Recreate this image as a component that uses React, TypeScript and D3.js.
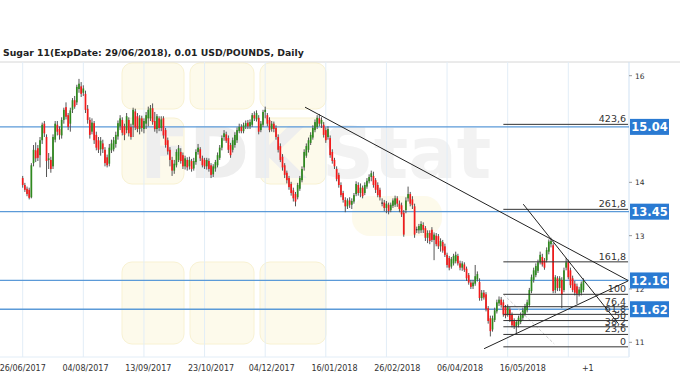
import React from "react";
import * as d3 from "d3";

const W = 680;
const H = 380;

// [open, high, low, close]
const barsJulSep2017: [number, number, number, number][] = [
  [14.08, 14.12, 13.9, 13.95], [13.95, 13.99, 13.82, 13.86], [13.88, 13.92, 13.74, 13.78], [13.86, 13.9, 13.68, 13.71],
  [13.72, 14.36, 13.7, 14.32], [14.36, 14.7, 14.3, 14.61], [14.6, 14.75, 14.38, 14.45], [14.64, 14.7, 14.4, 14.46],
  [14.51, 14.85, 14.28, 14.79], [14.79, 15.12, 14.72, 15.08], [15.1, 15.15, 14.85, 14.92], [14.85, 14.9, 14.1, 14.4],
  [14.42, 14.55, 14.25, 14.45], [14.42, 14.48, 14.18, 14.25], [14.3, 14.9, 14.25, 14.85], [14.8, 15.15, 14.75, 15.1],
  [15.08, 15.15, 14.88, 14.95], [15.0, 15.05, 14.8, 14.89], [14.88, 15.22, 14.82, 15.17], [15.17, 15.4, 15.1, 15.36],
  [15.41, 15.5, 15.18, 15.23], [15.26, 15.3, 14.98, 15.04], [15.1, 15.4, 14.95, 15.35], [15.36, 15.58, 15.3, 15.54],
  [15.54, 15.62, 15.38, 15.42], [15.5, 15.83, 15.45, 15.79], [15.75, 15.94, 15.68, 15.85], [15.8, 15.88, 15.6, 15.66],
  [15.68, 15.82, 15.62, 15.76], [15.66, 15.72, 15.3, 15.36], [15.38, 15.45, 15.1, 15.17], [15.17, 15.22, 14.82, 14.89],
  [14.95, 15.2, 14.9, 15.12], [15.11, 15.15, 14.72, 14.79], [14.89, 14.95, 14.6, 14.65], [14.79, 14.85, 14.55, 14.61],
  [14.62, 14.85, 14.5, 14.78], [14.73, 14.8, 14.55, 14.62], [14.61, 14.66, 14.3, 14.36], [14.47, 14.52, 14.28, 14.32],
  [14.35, 14.72, 14.3, 14.65], [14.6, 14.8, 14.55, 14.73], [14.62, 14.85, 14.58, 14.79], [14.72, 14.95, 14.65, 14.89],
  [14.86, 15.16, 14.8, 15.11], [15.05, 15.26, 14.98, 15.2], [15.17, 15.22, 14.88, 14.93], [15.05, 15.1, 14.79, 14.89],
  [14.98, 15.3, 14.92, 15.24], [15.17, 15.22, 14.86, 14.92], [15.04, 15.1, 14.8, 14.85], [15.08, 15.4, 14.85, 15.36],
];
const barsSepNov2017: [number, number, number, number][] = [
  [15.33, 15.38, 14.98, 15.03], [15.24, 15.3, 14.94, 15.0], [15.0, 15.26, 14.9, 15.2], [15.2, 15.25, 14.95, 15.02],
  [15.0, 15.2, 14.92, 15.15], [15.1, 15.32, 15.0, 15.26], [15.2, 15.42, 15.05, 15.36], [15.2, 15.45, 15.15, 15.39],
  [15.39, 15.48, 15.08, 15.13], [15.15, 15.32, 14.95, 15.0], [15.0, 15.28, 14.92, 15.24], [15.2, 15.24, 14.96, 15.02],
  [15.02, 15.24, 14.96, 15.18], [15.2, 15.24, 14.82, 14.88], [14.98, 15.02, 14.65, 14.7], [14.79, 14.84, 14.52, 14.58],
  [14.61, 14.66, 14.3, 14.42], [14.42, 14.48, 14.12, 14.22], [14.22, 14.42, 14.16, 14.35], [14.32, 14.62, 14.28, 14.57],
  [14.42, 14.7, 14.38, 14.64], [14.57, 14.64, 14.35, 14.4], [14.51, 14.56, 14.25, 14.3], [14.3, 14.5, 14.24, 14.45],
  [14.42, 14.47, 14.22, 14.28], [14.3, 14.48, 14.24, 14.42], [14.4, 14.44, 14.2, 14.25], [14.26, 14.46, 14.22, 14.4],
  [14.38, 14.62, 14.33, 14.57], [14.57, 14.72, 14.52, 14.65], [14.62, 14.66, 14.4, 14.45], [14.45, 14.5, 14.28, 14.32],
  [14.42, 14.46, 14.25, 14.3], [14.3, 14.46, 14.24, 14.42], [14.4, 14.45, 14.2, 14.25], [14.32, 14.36, 14.08, 14.14],
  [14.15, 14.34, 14.1, 14.3], [14.26, 14.42, 14.2, 14.38], [14.32, 14.56, 14.28, 14.51], [14.46, 14.7, 14.42, 14.65],
  [14.65, 14.88, 14.6, 14.83], [14.85, 14.98, 14.78, 14.92], [14.9, 14.95, 14.74, 14.78], [14.83, 14.88, 14.55, 14.61],
  [14.7, 14.74, 14.46, 14.51], [14.61, 14.84, 14.56, 14.79], [14.7, 14.94, 14.65, 14.89], [14.79, 15.03, 14.74, 14.98],
  [14.96, 15.1, 14.92, 15.04], [15.04, 15.09, 14.92, 14.96], [14.96, 15.12, 14.92, 15.07], [15.05, 15.16, 15.0, 15.11],
];
const barsDec2017Jan2018: [number, number, number, number][] = [
  [15.12, 15.17, 15.0, 15.05], [15.05, 15.18, 15.0, 15.13], [15.08, 15.3, 15.04, 15.26], [15.26, 15.33, 15.15, 15.2],
  [15.18, 15.35, 15.14, 15.3], [15.21, 15.26, 14.9, 14.95], [14.98, 15.15, 14.94, 15.1], [15.08, 15.36, 15.04, 15.32],
  [15.32, 15.42, 15.2, 15.36], [15.26, 15.3, 15.05, 15.1], [15.17, 15.22, 14.94, 14.98], [15.0, 15.15, 14.95, 15.1],
  [15.1, 15.14, 14.94, 15.0], [15.02, 15.07, 14.8, 14.85], [14.85, 14.9, 14.56, 14.61], [14.68, 14.73, 14.38, 14.42],
  [14.48, 14.53, 14.22, 14.28], [14.32, 14.36, 14.08, 14.14], [14.18, 14.22, 13.98, 14.04], [14.08, 14.12, 13.86, 13.91],
  [13.97, 14.01, 13.75, 13.8], [13.85, 13.9, 13.64, 13.7], [13.78, 13.82, 13.55, 13.64], [13.72, 13.99, 13.68, 13.95],
  [13.88, 14.12, 13.84, 14.08], [14.04, 14.3, 14.0, 14.25], [14.28, 14.62, 14.22, 14.57], [14.5, 14.73, 14.46, 14.68],
  [14.61, 14.84, 14.56, 14.79], [14.74, 14.94, 14.7, 14.89], [14.84, 15.07, 14.8, 15.02], [14.98, 15.18, 14.94, 15.13],
  [15.04, 15.26, 15.0, 15.21], [15.2, 15.28, 15.05, 15.1], [15.1, 15.22, 15.02, 15.17], [15.08, 15.13, 14.84, 14.89],
  [14.98, 15.03, 14.74, 14.79], [14.85, 15.05, 14.8, 15.0], [14.83, 14.88, 14.46, 14.51], [14.57, 14.62, 14.35, 14.4],
  [14.42, 14.46, 14.25, 14.3], [14.25, 14.3, 14.02, 14.06], [14.14, 14.18, 13.9, 13.95], [13.95, 14.0, 13.72, 13.76],
  [13.8, 13.84, 13.62, 13.67], [13.67, 13.72, 13.44, 13.55], [13.55, 13.7, 13.5, 13.66], [13.66, 13.72, 13.52, 13.58],
  [13.58, 13.7, 13.5, 13.65], [13.64, 13.8, 13.6, 13.76],
];
const barsFebApr2018: [number, number, number, number][] = [
  [13.78, 14.02, 13.74, 13.97], [13.95, 14.0, 13.75, 13.8], [13.8, 13.98, 13.72, 13.9], [13.9, 13.94, 13.7, 13.74],
  [13.8, 14.0, 13.76, 13.95], [13.92, 14.08, 13.88, 14.03], [14.02, 14.15, 13.98, 14.1], [14.1, 14.22, 14.02, 14.17],
  [14.12, 14.2, 13.9, 13.95], [14.04, 14.08, 13.8, 13.86], [13.95, 14.0, 13.72, 13.76], [13.86, 13.9, 13.66, 13.72],
  [13.62, 13.7, 13.55, 13.62], [13.62, 13.67, 13.46, 13.52], [13.52, 13.65, 13.42, 13.6], [13.58, 13.62, 13.4, 13.46],
  [13.48, 13.62, 13.44, 13.58], [13.56, 13.7, 13.52, 13.66], [13.58, 13.75, 13.54, 13.7], [13.7, 13.74, 13.54, 13.6],
  [13.6, 13.66, 13.44, 13.5], [13.57, 13.62, 13.35, 13.4], [13.43, 13.48, 12.98, 13.02], [13.48, 13.72, 13.42, 13.66],
  [13.7, 13.92, 13.64, 13.78], [13.78, 13.82, 13.55, 13.6], [13.68, 13.74, 13.5, 13.57], [13.55, 13.6, 12.96, 13.02],
  [13.12, 13.17, 13.05, 13.12], [13.1, 13.22, 13.04, 13.18], [13.1, 13.27, 13.05, 13.22], [13.2, 13.25, 13.05, 13.11],
  [13.14, 13.18, 12.9, 12.96], [12.96, 13.1, 12.86, 13.05], [13.05, 13.1, 12.84, 12.9], [13.11, 13.16, 12.88, 12.92],
  [12.92, 13.06, 12.54, 13.02], [13.0, 13.05, 12.8, 12.84], [12.99, 13.03, 12.75, 12.8], [12.8, 12.95, 12.7, 12.9],
  [12.88, 12.92, 12.68, 12.72], [12.8, 12.85, 12.6, 12.64], [12.64, 12.68, 12.4, 12.45], [12.58, 12.62, 12.35, 12.4],
  [12.42, 12.6, 12.38, 12.56], [12.48, 12.66, 12.44, 12.62], [12.52, 12.7, 12.48, 12.64], [12.62, 12.66, 12.44, 12.48],
];
const barsMayJun2018: [number, number, number, number][] = [
  [12.48, 12.53, 12.35, 12.4], [12.4, 12.52, 12.34, 12.48], [12.46, 12.5, 12.32, 12.36], [12.38, 12.42, 12.15, 12.2],
  [12.26, 12.3, 12.08, 12.12], [12.12, 12.17, 12.0, 12.04], [12.05, 12.17, 12.0, 12.12], [12.1, 12.45, 12.06, 12.24],
  [12.18, 12.33, 12.14, 12.28], [12.13, 12.2, 11.78, 11.83], [11.83, 11.98, 11.78, 11.93], [11.93, 11.98, 11.8, 11.84],
  [11.9, 11.94, 11.58, 11.62], [11.64, 11.68, 11.35, 11.4], [11.45, 11.5, 11.11, 11.21], [11.24, 11.5, 11.2, 11.45],
  [11.42, 11.65, 11.38, 11.6], [11.58, 11.8, 11.54, 11.75], [11.73, 11.86, 11.68, 11.8], [11.8, 11.85, 11.65, 11.7],
  [11.75, 11.8, 11.48, 11.52], [11.66, 11.7, 11.45, 11.5], [11.52, 11.71, 11.48, 11.66], [11.62, 11.66, 11.38, 11.42],
  [11.52, 11.56, 11.28, 11.32], [11.4, 11.45, 11.25, 11.3], [11.3, 11.42, 11.17, 11.38], [11.33, 11.5, 11.28, 11.46],
  [11.38, 11.56, 11.34, 11.51], [11.46, 11.65, 11.42, 11.6], [11.53, 11.72, 11.49, 11.68], [11.6, 11.8, 11.56, 11.75],
  [11.7, 12.02, 11.66, 11.98], [11.96, 12.27, 11.92, 12.22], [12.17, 12.4, 12.12, 12.35], [12.26, 12.48, 12.22, 12.43],
  [12.34, 12.55, 12.3, 12.5], [12.5, 12.7, 12.46, 12.64], [12.6, 12.66, 12.42, 12.46], [12.54, 12.58, 12.36, 12.4],
  [12.54, 12.78, 12.5, 12.73], [12.7, 12.93, 12.65, 12.89], [12.84, 12.96, 12.78, 12.9], [12.82, 12.86, 11.92, 11.96],
  [11.98, 12.26, 11.92, 12.22], [12.2, 12.24, 11.96, 12.02], [12.02, 12.24, 11.96, 12.2], [12.17, 12.22, 11.64, 11.89],
  [11.98, 12.4, 11.94, 12.35], [12.4, 12.58, 12.35, 12.5], [12.5, 12.55, 12.18, 12.22], [12.35, 12.4, 12.02, 12.07],
  [12.2, 12.25, 11.94, 11.98], [12.1, 12.15, 11.88, 11.93], [12.05, 12.1, 11.72, 11.91], [11.91, 12.04, 11.86, 11.99],
  [11.93, 12.14, 11.88, 12.1], [11.98, 12.2, 11.94, 12.15],
];

const bars = [...barsJulSep2017, ...barsSepNov2017, ...barsDec2017Jan2018, ...barsFebApr2018, ...barsMayJun2018];

const dateTickIndex = [0, 29, 58, 87, 115, 144, 173, 202, 231];
const dateTickLabels = ["26/06/2017", "04/08/2017", "13/09/2017", "23/10/2017", "04/12/2017", "16/01/2018", "26/02/2018", "06/04/2018", "16/05/2018"];
const gridIndex = [0, 28, 56, 84, 112, 140, 168, 196, 224, 252];
const futureIndex = 261;
const futureLabel = "+1";

const priceTicks = [11, 12, 13, 14, 16];
const levelValues = [15.04, 13.45, 12.16, 11.62];
const levelLabels = ["15.04", "13.45", "12.16", "11.62"];

const fibRatios = [0, 0.236, 0.382, 0.5, 0.618, 0.764, 1, 1.618, 2.618, 4.236];
const fibLabels = ["0", "23,6", "38,2", "50", "61,8", "76,4", "100", "161,8", "261,8", "423,6"];
const fibBase = [10.915, 11.9]; // 0% and 100% prices
const fibSpan = [222, 279.6]; // bar indices

// trend lines: [index1, price1, index2, price2]
const trendLines: [number, number, number, number][] = [
  [130.4, 15.41, 279.6, 12.16],
  [231.2, 13.59, 275.1, 11.35],
  [213.1, 10.88, 279.6, 12.15],
];
const fibDiagonal: [number, number, number, number] = [222, 11.9, 245.5, 10.97];

const title = "Sugar 11(ExpDate: 29/06/2018), 0.01 USD/POUNDS, Daily";

export default function App() {
  const x = d3.scaleLinear().domain([0, 252]).range([22.7, 568.3]);
  const y = d3.scaleLinear().domain([11, 16]).range([342.3, 75.7]);
  const plotTop = 62;
  const plotBottom = 357;
  const plotRight = 629;
  const bodyW = 1.7;
  const fibY = (r: number) => y(fibBase[0] + r * (fibBase[1] - fibBase[0]));
  const font = "DejaVu Sans, Verdana, sans-serif";

  return (
    <svg width={W} height={H} style={{ position: "absolute", left: 0, top: 0, background: "#fff" }}>
      <rect x={0} y={0} width={W} height={H} fill="#fff" />
      <text x={3} y={56} fontFamily={font} fontWeight="bold" fontSize={9.3} fill="#222">
        {title}
      </text>
      <line x1={0} x2={W} y1={plotTop} y2={plotTop} stroke="#d6d6d6" strokeWidth={1} />

      {/* watermark */}
      <g opacity={0.5}>
        {[
          [122, 63, 62, 46],
          [190, 63, 64, 46],
          [260, 63, 66, 46],
          [122, 118, 62, 66],
          [260, 118, 66, 66],
          [122, 262, 62, 82],
          [190, 262, 64, 82],
          [260, 262, 66, 82],
        ].map((r, i) => (
          <rect key={i} x={r[0]} y={r[1]} width={r[2]} height={r[3]} rx={10} fill="#fdf6d8" stroke="#f3e6a8" strokeWidth={1} />
        ))}
        <rect x={352} y={196} width={90} height={40} rx={18} fill="#fdf6d8" />
        <text x={140} y={178} fontFamily={font} fontWeight="bold" fontSize={72} fill="#dedede">
          FDK
        </text>
        <text x={322} y={178} fontFamily={font} fontWeight="bold" fontSize={72} fill="#e6e6e6">
          Stat
        </text>
      </g>

      {/* vertical grid */}
      {gridIndex.map((g) => (
        <line key={g} x1={x(g)} x2={x(g)} y1={plotTop} y2={plotBottom} stroke="#e2edf7" strokeWidth={1} />
      ))}
      <line x1={plotRight} x2={plotRight} y1={plotTop} y2={plotBottom} stroke="#cfe1f3" strokeWidth={1} />
      <line x1={0} x2={plotRight} y1={plotBottom} y2={plotBottom} stroke="#e2edf7" strokeWidth={1} />

      {/* level lines */}
      {levelValues.map((v) => (
        <line key={v} x1={0} x2={plotRight} y1={y(v)} y2={y(v)} stroke="#5b9ad8" strokeWidth={1.3} />
      ))}

      {/* candles */}
      {bars.map((b, i) => {
        const [o, h, l, c] = b;
        const cx = x(i);
        const up = c > o;
        const flat = Math.abs(c - o) < 0.005;
        const top = y(Math.max(o, c));
        const bh = Math.max(1, y(Math.min(o, c)) - top);
        return (
          <g key={i}>
            <line x1={cx} x2={cx} y1={y(h)} y2={y(l)} stroke="#555" strokeWidth={1} />
            <rect x={cx - bodyW / 2} y={top} width={bodyW} height={bh} fill={flat ? "#222" : up ? "#2f8a1f" : "#f21b1b"} />
          </g>
        );
      })}

      {/* fib diagonal */}
      <line
        x1={x(fibDiagonal[0])}
        y1={y(fibDiagonal[1])}
        x2={x(fibDiagonal[2])}
        y2={y(fibDiagonal[3])}
        stroke="#cccccc"
        strokeDasharray="3,2"
        strokeWidth={1}
      />
      {/* fib levels */}
      {fibRatios.map((r, i) => (
        <g key={r}>
          <line x1={x(fibSpan[0])} x2={x(fibSpan[1])} y1={fibY(r)} y2={fibY(r)} stroke="#333" strokeWidth={1} />
          <text x={626} y={fibY(r) - 2} textAnchor="end" fontFamily={font} fontSize={9.5} fill="#333">
            {fibLabels[i]}
          </text>
        </g>
      ))}

      {/* trend lines */}
      {trendLines.map((t, i) => (
        <line key={i} x1={x(t[0])} y1={y(t[1])} x2={x(t[2])} y2={y(t[3])} stroke="#222" strokeWidth={1} />
      ))}

      {/* right axis */}
      {priceTicks.map((p) => (
        <g key={p}>
          <line x1={plotRight} x2={plotRight + 3} y1={y(p)} y2={y(p)} stroke="#999" />
          <text x={635} y={y(p) + 3} fontFamily={font} fontSize={7.5} fill="#333">
            {p}
          </text>
        </g>
      ))}
      {levelValues.map((v, i) => (
        <g key={v}>
          <rect x={630} y={y(v) - 8} width={39} height={16} fill="#2a7ad2" />
          <text x={649.5} y={y(v) + 4.5} textAnchor="middle" fontFamily={font} fontWeight="bold" fontSize={11.5} fill="#fff">
            {levelLabels[i]}
          </text>
        </g>
      ))}

      {/* bottom axis labels */}
      {dateTickIndex.map((d, i) => (
        <text key={d} x={x(d)} y={371} textAnchor="middle" fontFamily={font} fontSize={8} fill="#333">
          {dateTickLabels[i]}
        </text>
      ))}
      <text x={x(futureIndex)} y={371} textAnchor="middle" fontFamily={font} fontSize={8} fill="#333">
        {futureLabel}
      </text>
    </svg>
  );
}
